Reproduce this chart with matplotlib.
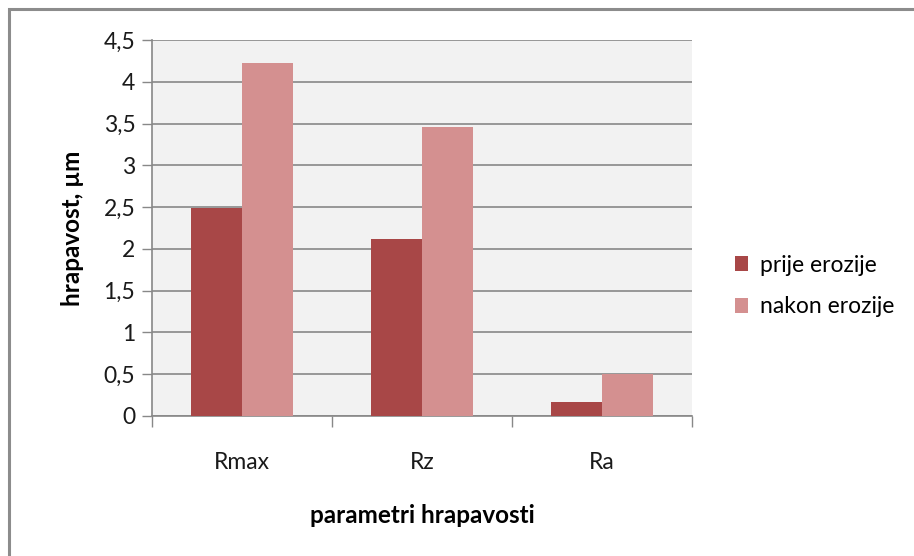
import numpy as np
import matplotlib.pyplot as plt
from matplotlib.patches import Rectangle
from matplotlib.ticker import FuncFormatter

plt.rcParams['font.family'] = ['Lato', 'DejaVu Sans']

kategorije = ['Rmax', 'Rz', 'Ra']
prije = [2.49, 2.12, 0.17]
nakon = [4.23, 3.46, 0.50]
serije = ['prije erozije', 'nakon erozije']
boje = ['#A84747', '#D49090']

fig = plt.figure(figsize=(9.14, 5.56), dpi=100)
ax = fig.add_axes([152/914, 1-416/556, 540/914, 376/556])

# okvir oko cijelog grafikona
fig.patches.append(Rectangle((9/914, -0.1), 1.2, 1-9/556+0.1, transform=fig.transFigure,
                             fill=False, edgecolor='#8c8c8c', lw=2.2))

x = np.arange(len(kategorije))
w = 1/3.5
ax.bar(x - w/2, prije, w, color=boje[0], label=serije[0], zorder=3)
ax.bar(x + w/2, nakon, w, color=boje[1], label=serije[1], zorder=3)

ax.set_facecolor('#F2F2F2')
ax.set_xlim(-0.5, 2.5)
ax.set_ylim(0, 4.5)
ax.set_yticks(np.arange(0, 4.51, 0.5))
ax.yaxis.set_major_formatter(FuncFormatter(lambda v, p: ('%g' % v).replace('.', ',')))
ax.yaxis.grid(True, color='#888888', lw=1.2, zorder=0)
ax.tick_params(axis='y', length=7, width=1, color='#888888', labelsize=16.5, pad=5, labelcolor='#1a1a1a')

ax.set_xticks(np.arange(-0.5, 2.6, 1))
ax.set_xticklabels([])
ax.set_xticks(x, minor=True)
ax.set_xticklabels(kategorije, minor=True)
ax.tick_params(axis='x', which='major', length=8, width=1, color='#888888', direction='out')
ax.tick_params(axis='x', which='minor', length=0, labelsize=16.5, pad=26, labelcolor='#1a1a1a')

for s in ['top', 'right']:
    ax.spines[s].set_visible(False)
for s in ['left', 'bottom']:
    ax.spines[s].set_color('#888888')
    ax.spines[s].set_linewidth(1.2)

ax.set_xlabel('parametri hrapavosti', fontsize=17.5, fontweight='bold', labelpad=22)
ax.set_ylabel('hrapavost, µm', fontsize=17.5, fontweight='bold', labelpad=14)

fig.legend(loc='center left', bbox_to_anchor=(714/914, 1-286/556), frameon=False,
           fontsize=16.5, handlelength=0.6, handleheight=0.6, handletextpad=0.5,
           labelspacing=0.9)

fig.savefig('out.png', dpi=100)
